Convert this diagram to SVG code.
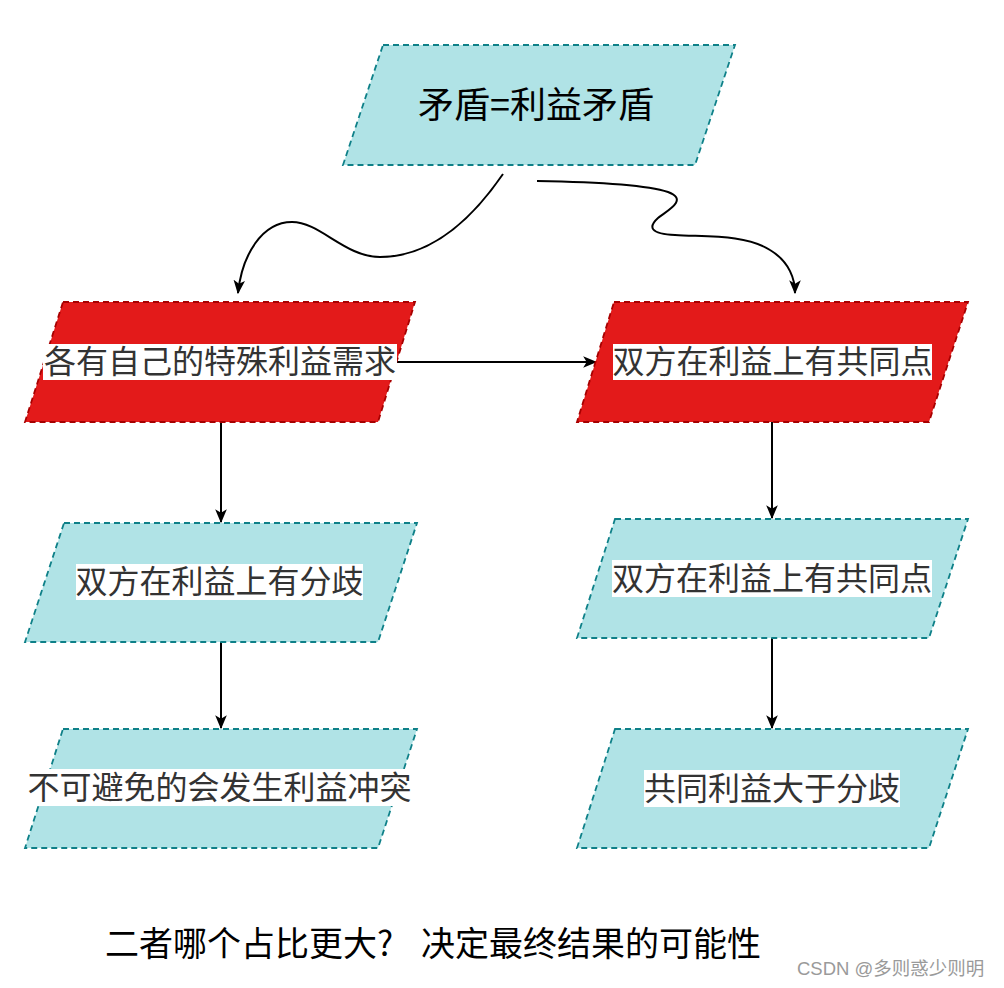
<svg xmlns="http://www.w3.org/2000/svg" width="1004" height="988" viewBox="0 0 1004 988">
<style>
.cyan{fill:#b0e3e6;stroke:#0e8088;stroke-width:1.8;stroke-dasharray:6 4}
.red{fill:#e31a1a;stroke:#a80000;stroke-width:1.8;stroke-dasharray:6 4}
.lbl{font-family:"Noto Sans CJK SC","Noto Sans",sans-serif;font-size:32px;fill:#333333;text-anchor:middle}
.bg{fill:#ffffff}
.edge{fill:none;stroke:#000000;stroke-width:2}
</style>
<defs>
<marker id="arr" viewBox="0 0 12 10" refX="11" refY="5" markerWidth="14" markerHeight="12" markerUnits="userSpaceOnUse" orient="auto">
<path d="M0,0 L12,5 L0,10 L3,5 Z" fill="#000000"/>
</marker>
</defs>
<rect width="1004" height="988" fill="#ffffff"/>
<g id="connectors">
<path class="edge" d="M503,174 C470,222 430,257 380,257 C345,257 320,222 292,222 C262,222 242,255 238,293" marker-end="url(#arr)"/>
<path class="edge" d="M537,181 C600,182 650,186 668,192 C690,200 665,212 658,218 C648,227 650,234 675,235 C705,237 745,234 770,250 C790,262 795,280 795,293" marker-end="url(#arr)"/>
<path class="edge" d="M397,362 L596,362" marker-end="url(#arr)"/>
<path class="edge" d="M221,422 L221,522" marker-end="url(#arr)"/>
<path class="edge" d="M221,642 L221,728" marker-end="url(#arr)"/>
<path class="edge" d="M772,422 L772,518" marker-end="url(#arr)"/>
<path class="edge" d="M772,638 L772,728" marker-end="url(#arr)"/>
</g>
<g id="n-top">
<polygon class="cyan" points="383,45 735,45 695,165 343,165"/>
<text x="536" y="118" style="font-family:'Noto Sans CJK SC','Noto Sans',sans-serif;font-size:36px;fill:#000000;text-anchor:middle">矛盾=利益矛盾</text>
</g>
<g id="n-left1">
<polygon class="red" points="63,302 415,302 378,422 25,422"/>
<rect class="bg" x="43" y="344" width="354" height="36"/>
<text class="lbl" x="220" y="373">各有自己的特殊利益需求</text>
</g>
<g id="n-right1">
<polygon class="red" points="614,302 968,302 929,422 577,422"/>
<rect class="bg" x="613" y="344" width="319" height="36"/>
<text class="lbl" x="772.5" y="373">双方在利益上有共同点</text>
</g>
<g id="n-left2">
<polygon class="cyan" points="64,523 417,523 378,642 25,642"/>
<rect class="bg" x="76" y="564" width="287" height="36"/>
<text class="lbl" x="219.5" y="593">双方在利益上有分歧</text>
</g>
<g id="n-right2">
<polygon class="cyan" points="615,519 968,519 929,638 577,638"/>
<rect class="bg" x="612" y="560" width="320" height="37"/>
<text class="lbl" x="772" y="589.5">双方在利益上有共同点</text>
</g>
<g id="n-left3">
<polygon class="cyan" points="63,729 417,729 378,848 25,848"/>
<rect class="bg" x="27" y="769" width="385" height="37"/>
<text class="lbl" x="219.5" y="798.5">不可避免的会发生利益冲突</text>
</g>
<g id="n-right3">
<polygon class="cyan" points="615,729 968,729 929,848 577,848"/>
<rect class="bg" x="644" y="770" width="256" height="37"/>
<text class="lbl" x="772" y="799.5">共同利益大于分歧</text>
</g>
<g id="caption">
<text y="956" style="font-family:'Noto Sans CJK SC','Noto Sans',sans-serif;font-size:34px;fill:#000000"><tspan x="105">二者哪个占比更大?</tspan><tspan x="421">决定最终结果的可能性</tspan></text>
</g>
<text x="797" y="975" style="font-family:'Liberation Sans','Noto Sans CJK SC',sans-serif;font-size:18.5px;fill:#9a9a9a">CSDN @多则惑少则明</text>
</svg>
